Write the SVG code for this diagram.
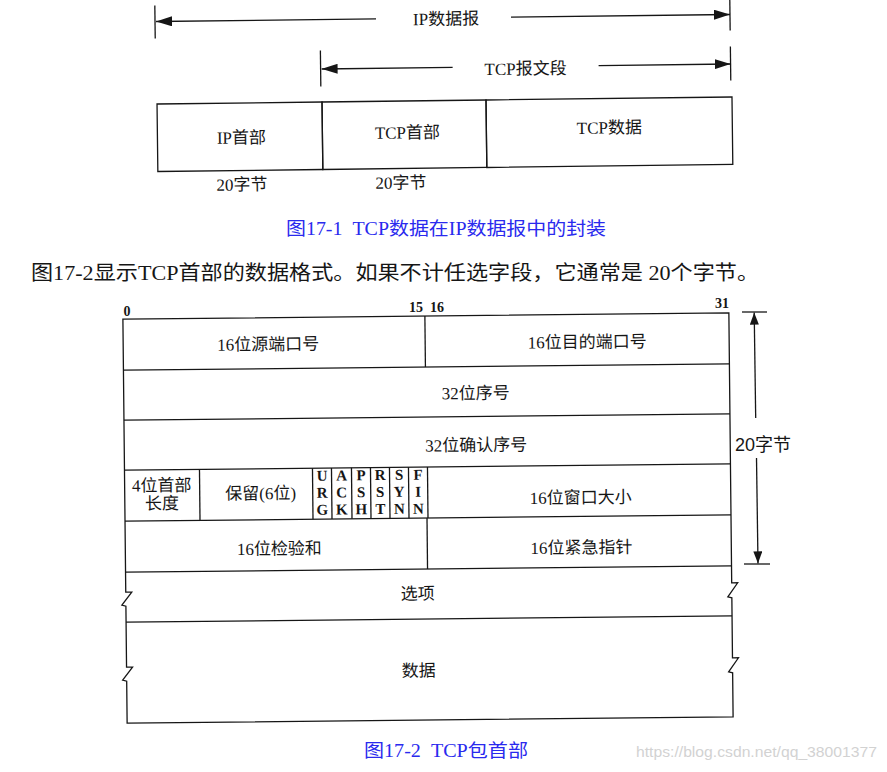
<svg xmlns="http://www.w3.org/2000/svg" width="887" height="772" viewBox="0 0 887 772">
<style>
.ln{stroke:#161616;stroke-width:1.3;fill:none}
.t{font-family:"Liberation Serif","Noto Sans CJK SC",serif;font-size:17px;fill:#161616;text-anchor:middle}
.b{font-family:"Liberation Serif",serif;font-weight:bold;font-size:14px;fill:#161616;text-anchor:middle}
.f{font-family:"Liberation Serif",serif;font-weight:bold;font-size:15px;fill:#161616;text-anchor:middle}
.cap{font-family:"Liberation Serif","Noto Sans CJK SC",serif;font-size:18px;fill:#2a2aee}
.body{font-family:"Liberation Serif","Noto Sans CJK SC",serif;font-size:20px;fill:#161616}
.s{font-family:"Liberation Sans","Noto Sans CJK SC",sans-serif;font-size:18px;fill:#161616;text-anchor:middle}
.wm{font-family:"Liberation Sans",sans-serif;font-size:15px;fill:#d2d2d2}
</style>
<defs>
<marker id="ah" viewBox="0 0 16 10" refX="16" refY="5" markerWidth="16" markerHeight="10" orient="auto" markerUnits="userSpaceOnUse"><path d="M0,0 L16,5 L0,10 Z" fill="#161616"/></marker>
<marker id="ah2" viewBox="0 0 12 9" refX="12" refY="4.5" markerWidth="12" markerHeight="9" orient="auto" markerUnits="userSpaceOnUse"><path d="M0,0 L12,4.5 L0,9 Z" fill="#161616"/></marker>
</defs>

<g id="fig1" transform="rotate(-0.7 444 100)">
  <g id="connectors-fig1">
    <line class="ln" x1="156" y1="2" x2="156" y2="35"/>
    <line class="ln" x1="731" y1="2" x2="731" y2="34"/>
    <line class="ln" x1="377" y1="18" x2="157" y2="18" marker-end="url(#ah)"/>
    <line class="ln" x1="512" y1="18" x2="731" y2="18" marker-end="url(#ah)"/>
    <line class="ln" x1="321" y1="49" x2="321" y2="85"/>
    <line class="ln" x1="731" y1="50" x2="731" y2="84"/>
    <line class="ln" x1="453" y1="67.5" x2="322" y2="67.5" marker-end="url(#ah)"/>
    <line class="ln" x1="599" y1="67.5" x2="731" y2="67.5" marker-end="url(#ah)"/>
  </g>
  <g id="lbl-ipdatagram"><text class="t" x="447" y="24.8">IP数据报</text></g>
  <g id="lbl-tcpsegment"><text class="t" x="526" y="75.5">TCP报文段</text></g>
  <g id="ip-header"><rect class="ln" x="157" y="100.5" width="165" height="67.5"/><text class="t" x="241" y="141">IP首部</text></g>
  <g id="tcp-header"><rect class="ln" x="322" y="100.5" width="164" height="67.5"/><text class="t" x="407" y="138">TCP首部</text></g>
  <g id="tcp-data"><rect class="ln" x="486" y="100.5" width="246" height="67.5"/><text class="t" x="609" y="135.5">TCP数据</text></g>
  <text class="t" x="241" y="188">20字节</text>
  <text class="t" x="400" y="188">20字节</text>
</g>

<text class="cap" x="286" y="235" xml:space="preserve" textLength="320" lengthAdjust="spacingAndGlyphs">图17-1  TCP数据在IP数据报中的封装</text>
<text class="body" x="31" y="279.5" textLength="728" lengthAdjust="spacingAndGlyphs">图17-2显示TCP首部的数据格式。如果不计任选字段，它通常是 20个字节。</text>

<g id="bit-labels">
  <text class="b" x="127" y="316">0</text>
  <text class="b" x="416" y="312">15</text>
  <text class="b" x="437" y="312">16</text>
  <text class="b" x="722" y="308">31</text>
</g>

<g id="tcp-table" transform="rotate(-0.6 428 518)">
  <path class="ln" d="M125,316 H731 V586 L737,586 L727,600 L731,601 V661 L737,661 L727,675 L731,676 V720 H125 V678 L121,677 L131,664 L125,664 V603 L121,602 L131,589 L125,589 Z"/>
  <g id="row-lines">
    <line class="ln" x1="125" y1="367" x2="731" y2="367"/>
    <line class="ln" x1="125" y1="417" x2="731" y2="417"/>
    <line class="ln" x1="125" y1="467" x2="731" y2="467"/>
    <line class="ln" x1="125" y1="518" x2="731" y2="518"/>
    <line class="ln" x1="125" y1="569" x2="731" y2="569"/>
    <line class="ln" x1="125" y1="619" x2="731" y2="619"/>
  </g>
  <g id="src-port"><line class="ln" x1="427" y1="316" x2="427" y2="367"/><text class="t" x="270" y="348.5">16位源端口号</text></g>
  <g id="dst-port"><text class="t" x="589" y="349.5">16位目的端口号</text></g>
  <g id="seq"><text class="t" x="477" y="399.5">32位序号</text></g>
  <g id="ack"><text class="t" x="477" y="451.5">32位确认序号</text></g>
  <g id="hdr-len"><line class="ln" x1="200" y1="467" x2="200" y2="518"/><text class="t" x="162" y="488.5">4位首部</text><text class="t" x="162" y="506.5">长度</text></g>
  <g id="reserved"><line class="ln" x1="313" y1="467" x2="313" y2="518"/><text class="t" x="261" y="497.5">保留(6位)</text></g>
  <g id="flags">
    <line class="ln" x1="332" y1="467" x2="332" y2="518"/>
    <line class="ln" x1="352" y1="467" x2="352" y2="518"/>
    <line class="ln" x1="371" y1="467" x2="371" y2="518"/>
    <line class="ln" x1="390" y1="467" x2="390" y2="518"/>
    <line class="ln" x1="409" y1="467" x2="409" y2="518"/>
    <line class="ln" x1="428" y1="467" x2="428" y2="518"/>
    <text class="f" x="322.5" y="479.5">U</text><text class="f" x="322.5" y="496.5">R</text><text class="f" x="322.5" y="513.5">G</text>
    <text class="f" x="342" y="479.5">A</text><text class="f" x="342" y="496.5">C</text><text class="f" x="342" y="513.5">K</text>
    <text class="f" x="361.5" y="479.5">P</text><text class="f" x="361.5" y="496.5">S</text><text class="f" x="361.5" y="513.5">H</text>
    <text class="f" x="380.5" y="479.5">R</text><text class="f" x="380.5" y="496.5">S</text><text class="f" x="380.5" y="513.5">T</text>
    <text class="f" x="399.5" y="479.5">S</text><text class="f" x="399.5" y="496.5">Y</text><text class="f" x="399.5" y="513.5">N</text>
    <text class="f" x="418.5" y="479.5">F</text><text class="f" x="418.5" y="496.5">I</text><text class="f" x="418.5" y="513.5">N</text>
  </g>
  <g id="window"><text class="t" x="581" y="505">16位窗口大小</text></g>
  <g id="checksum"><line class="ln" x1="427" y1="518" x2="427" y2="569"/><text class="t" x="279" y="553">16位检验和</text></g>
  <g id="urgent"><text class="t" x="581" y="555">16位紧急指针</text></g>
  <g id="options"><text class="t" x="417" y="599.5">选项</text></g>
  <g id="data"><text class="t" x="417" y="676.5">数据</text></g>
</g>

<g id="connectors-size">
  <line class="ln" x1="742" y1="312" x2="767" y2="312"/>
  <line class="ln" x1="744" y1="564" x2="770" y2="564"/>
  <line class="ln" x1="755.7" y1="418" x2="754.2" y2="312.6" marker-end="url(#ah2)"/>
  <line class="ln" x1="756.5" y1="458" x2="758" y2="563.4" marker-end="url(#ah2)"/>
</g>
<g id="lbl-20bytes"><text class="s" x="763" y="451">20字节</text></g>

<text class="cap" x="364" y="757" xml:space="preserve" textLength="164" lengthAdjust="spacingAndGlyphs">图17-2  TCP包首部</text>
<text class="wm" x="636" y="757" textLength="241" lengthAdjust="spacingAndGlyphs">https://blog.csdn.net/qq_38001377</text>
</svg>
